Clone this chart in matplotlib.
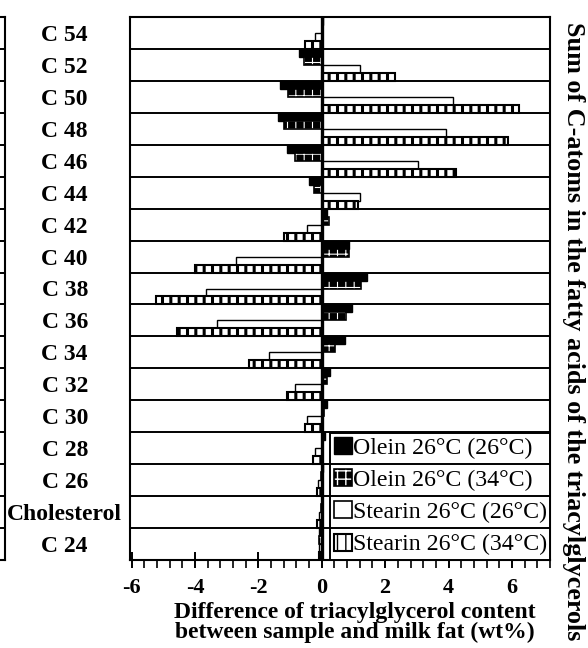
import matplotlib
matplotlib.use('Agg')
import matplotlib.pyplot as plt
from matplotlib.patches import Patch
from matplotlib.legend_handler import HandlerTuple
from matplotlib.ticker import AutoMinorLocator
import numpy as np

plt.rcParams['font.family'] = ['Liberation Serif', 'DejaVu Serif']

# values (wt%)
categories = ['C 54', 'C 52', 'C 50', 'C 48', 'C 46', 'C 44', 'C 42', 'C 40', 'C 38',
              'C 36', 'C 34', 'C 32', 'C 30', 'C 28', 'C 26', 'Cholesterol', 'C 24']
olein26 = [0.05, -0.73, -1.33, -1.39, -1.10, -0.41, 0.15, 0.85, 1.42,
           0.95, 0.73, 0.25, 0.15, 0.10, 0.03, 0.00, -0.08]
olein34 = [0.00, -0.55, -1.08, -1.18, -0.83, -0.25, 0.22, 0.85, 1.25,
           0.76, 0.43, 0.15, 0.08, 0.05, -0.03, -0.03, -0.08]
stearin26 = [-0.20, 1.20, 4.15, 3.91, 3.04, 1.22, -0.48, -2.70, -3.64,
             -3.32, -1.68, -0.83, -0.47, -0.21, -0.13, -0.10, -0.08]
stearin34 = [-0.52, 2.30, 6.23, 5.86, 4.24, 1.15, -1.18, -3.99, -5.23,
             -4.58, -2.31, -1.10, -0.54, -0.27, -0.16, -0.14, -0.10]
labels = ['Olein 26°C (26°C)', 'Olein 26°C (34°C)',
          'Stearin 26°C (26°C)', 'Stearin 26°C (34°C)']


def hatch_width(patches, w):
    for p in patches:
        if hasattr(p, 'set_hatch_linewidth'):
            p.set_hatch_linewidth(w)


y = np.arange(len(categories))
h = 0.25

fig = plt.figure(figsize=(5.88, 6.48), dpi=100)
ax = fig.add_axes([130/588, 1-560/648, 420/588, 543/648])

ax.barh(y - 1.5*h, olein26, height=h, color='black', edgecolor='black', lw=1, zorder=3)
with plt.rc_context({'hatch.linewidth': 0.8}):
    b2 = ax.barh(y - 0.5*h, olein34, height=h, color='black', edgecolor='white',
                 hatch='++', lw=0, zorder=3)
    hatch_width(b2, 0.8)
ax.barh(y - 0.5*h, olein34, height=h, color='none', edgecolor='black', lw=1.2, zorder=3)
ax.barh(y + 0.5*h, stearin26, height=h, color='white', edgecolor='black', lw=1, zorder=3)
with plt.rc_context({'hatch.linewidth': 2.2}):
    b4 = ax.barh(y + 1.5*h, stearin34, height=h, color='white', edgecolor='black',
                 hatch='||', lw=1.5, zorder=3)
    hatch_width(b4, 2.2)

# row separators and zero line
for b in np.arange(len(categories) - 1) + 0.5:
    ax.axhline(b, color='black', lw=1.4, zorder=6)
ax.axvline(0, color='black', lw=2.4, zorder=7)

ax.set_xlim(-6.05, 7.2)
ax.set_ylim(len(categories) - 0.5, -0.5)
ax.set_yticks(y)
ax.set_yticklabels(categories, fontsize=17, fontweight='bold', ha='center')
ax.tick_params(axis='y', length=0, pad=47)
ax.set_xticks([-6, -4, -2, 0, 2, 4, 6])
ax.set_xticklabels(['-6', '-4', '-2', '0', '2', '4', '6'], fontsize=16, fontweight='bold')
ax.xaxis.set_minor_locator(AutoMinorLocator(5))
ax.tick_params(axis='x', which='major', direction='inout', length=12, width=1.4, pad=7)
ax.tick_params(axis='x', which='minor', direction='out', length=6, width=1.2)
for s in ax.spines.values():
    s.set_linewidth(1.5)

ax.set_xlabel('Difference of triacylglycerol content\nbetween sample and milk fat (wt%)',
              fontsize=17, fontweight='bold', linespacing=0.95)
ax.xaxis.set_label_coords(0.536, -0.077)

fig.text(574/588, 0.489, 'Sum of C-atoms in the fatty acids of the triacylglycerols',
         rotation=270, ha='center', va='center', fontsize=18.8, fontweight='bold')

with plt.rc_context({'hatch.linewidth': 0.9}):
    h_ol34 = Patch(facecolor='black', edgecolor='white', hatch='++', lw=0)
    hatch_width([h_ol34], 0.9)
with plt.rc_context({'hatch.linewidth': 2.0}):
    h_st34 = Patch(facecolor='white', edgecolor='black', hatch='||', lw=1.5)
    hatch_width([h_st34], 2.0)
handles = [Patch(facecolor='black', edgecolor='black'),
           (h_ol34, Patch(facecolor='none', edgecolor='black', lw=1.2)),
           Patch(facecolor='white', edgecolor='black', lw=1.2),
           h_st34]
leg = ax.legend(handles, labels, loc='lower left', bbox_to_anchor=(0.476, 0, 0.524, 4/17),
                mode='expand', borderaxespad=0, fancybox=False, edgecolor='black',
                fontsize=17.2, handlelength=0.72, handleheight=0.72, handletextpad=0.05,
                labelspacing=0.43, borderpad=0.19, framealpha=1,
                handler_map={tuple: HandlerTuple(ndivide=1, pad=0)})
leg.get_frame().set_linewidth(1.4)

# fragment of the neighbouring panel at the left edge
ax0 = fig.add_axes([-0.3, 1-560/648, 0.3 + 5/588, 543/648])
ax0.set_ylim(len(categories) - 0.5, -0.5)
for b in np.arange(len(categories) - 1) + 0.5:
    ax0.axhline(b, color='black', lw=1.4)
ax0.set_xticks([])
ax0.set_yticks([])
for s in ax0.spines.values():
    s.set_linewidth(1.5)

fig.savefig('out.png', dpi=100)
